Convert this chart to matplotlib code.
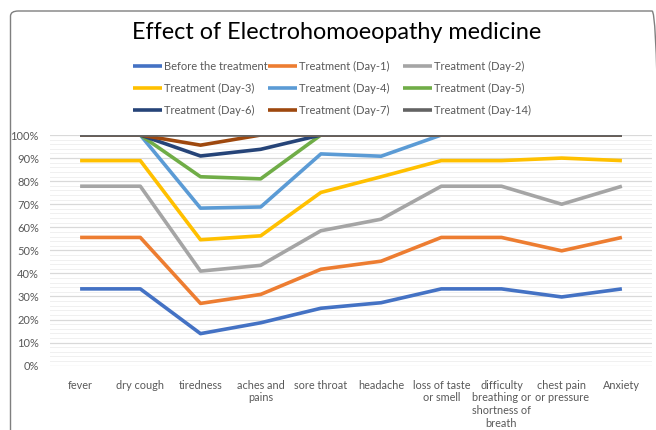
import matplotlib
matplotlib.use("Agg")
import matplotlib.pyplot as plt
from matplotlib.patches import FancyBboxPatch
from matplotlib.ticker import MultipleLocator, PercentFormatter

plt.rcParams['font.family'] = ['Lato', 'DejaVu Sans']

categories = ["fever", "dry cough", "tiredness", "aches and\npains", "sore throat", "headache",
              "loss of taste\nor smell", "difficulty\nbreathing or\nshortness of\nbreath",
              "chest pain\nor pressure", "Anxiety"]

series_names = ["Before the treatment", "Treatment (Day-1)", "Treatment (Day-2)",
                "Treatment (Day-3)", "Treatment (Day-4)", "Treatment (Day-5)",
                "Treatment (Day-6)", "Treatment (Day-7)", "Treatment (Day-14)"]

before = [33.3, 33.3, 13.9, 18.6, 24.9, 27.3, 33.3, 33.3, 29.8, 33.3]
day1 = [55.6, 55.6, 27.0, 30.9, 41.8, 45.3, 55.6, 55.6, 49.8, 55.6]
day2 = [77.8, 77.8, 41.0, 43.5, 58.5, 63.5, 77.8, 77.8, 70.0, 77.8]
day3 = [88.9, 88.9, 54.6, 56.3, 75.1, 81.9, 88.9, 88.9, 90.0, 88.9]
day4 = [100, 100, 68.3, 68.8, 91.8, 90.8, 100, 100, 100, 100]
day5 = [100, 100, 81.9, 81.0, 100, 100, 100, 100, 100, 100]
day6 = [100, 100, 90.9, 93.8, 100, 100, 100, 100, 100, 100]
day7 = [100, 100, 95.6, 100, 100, 100, 100, 100, 100, 100]
day14 = [100, 100, 100, 100, 100, 100, 100, 100, 100, 100]

all_series = [before, day1, day2, day3, day4, day5, day6, day7, day14]
colors = ["#4472C4", "#ED7D31", "#A5A5A5", "#FFC000", "#5B9BD5", "#70AD47",
          "#264478", "#9E480E", "#636363"]

fig = plt.figure(figsize=(6.56, 4.30), dpi=100)

# chart border
border = FancyBboxPatch((10.5 / 656, -0.05), 0.99, (430 - 11) / 430 + 0.05,
                        boxstyle="round,pad=0,rounding_size=0.012",
                        transform=fig.transFigure, fill=False,
                        edgecolor="#7f7f7f", linewidth=1.0)
fig.patches.append(border)

ax = fig.add_axes([50 / 656, (430 - 365.7) / 430, 602 / 656, 230.7 / 430])

x = list(range(len(categories)))
handles = []
for vals, name, c in zip(all_series, series_names, colors):
    h, = ax.plot(x, vals, color=c, linewidth=2.6, label=name, solid_capstyle='butt')
    handles.append(h)

ax.set_xlim(-0.5, len(categories) - 0.5)
ax.set_ylim(0, 100)
ax.yaxis.set_major_locator(MultipleLocator(10))
ax.yaxis.set_minor_locator(MultipleLocator(2))
ax.yaxis.set_major_formatter(PercentFormatter(decimals=0))
ax.grid(axis='y', which='major', color='#d9d9d9', linewidth=0.9)
ax.grid(axis='y', which='minor', color='#f0f0f0', linewidth=0.7)
ax.set_axisbelow(True)
for s in ax.spines.values():
    s.set_visible(False)
ax.tick_params(axis='both', which='both', length=0)
ax.tick_params(axis='y', labelsize=8, labelcolor='#595959', pad=8)
ax.set_xticks(x)
ax.set_xticklabels(categories, fontsize=7.8, color='#595959', linespacing=1.2)
ax.tick_params(axis='x', pad=10)

fig.text(0.513, 0.925, "Effect of Electrohomoeopathy medicine", ha='center', va='center',
         fontsize=16.8, color='#000000')

# legend: three columns, each a separate legend with fixed left position
col_x = [133 / 656, 268 / 656, 403 / 656]
top_y = 1 - 61 / 430
for ci in range(3):
    idx = [ci, ci + 3, ci + 6]
    leg = fig.legend([handles[i] for i in idx], [series_names[i] for i in idx],
                     loc='upper left', bbox_to_anchor=(col_x[ci], top_y),
                     frameon=False, fontsize=8, handlelength=2.6, handletextpad=0.15,
                     labelspacing=0.98, borderpad=0, borderaxespad=0)
    for t in leg.get_texts():
        t.set_color('#595959')

fig.savefig("out.png", dpi=100)
